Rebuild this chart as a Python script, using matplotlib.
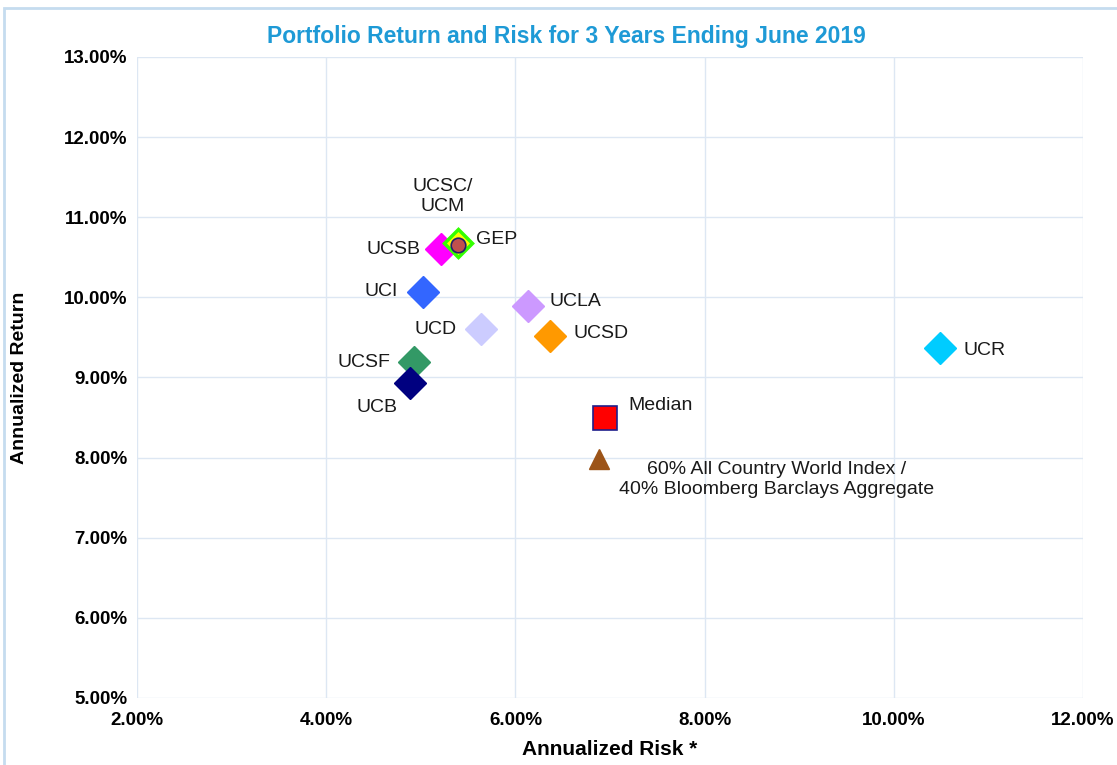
import matplotlib.pyplot as plt
from matplotlib.ticker import FuncFormatter
from matplotlib.patches import Rectangle

# values (percent)
names = ["UCSC/\nUCM", "UCSB", "UCI", "UCLA", "UCD", "UCSD", "UCSF", "UCB", "UCR"]
risk = [5.39, 5.21, 5.02, 6.13, 5.64, 6.36, 4.93, 4.89, 10.49]
ret = [10.68, 10.60, 10.07, 9.89, 9.60, 9.52, 9.19, 8.93, 9.37]
colors = ["#FFFF00", "#FF00FF", "#3366FF", "#CC99FF", "#CCCCFF", "#FF9900", "#339966", "#000080", "#00CCFF"]

gep_risk, gep_ret = 5.39, 10.65
median_risk, median_ret = 6.95, 8.49
bench_risk, bench_ret = 6.88, 7.98
bench_name = "60% All Country World Index /\n40% Bloomberg Barclays Aggregate"

# label offsets in pixels (dx, dy, ha, va)
offsets = {
    "UCSC/\nUCM": (-15, 28, "center", "bottom"),
    "UCSB": (-20, 0, "right", "center"),
    "UCI": (-25, 0, "right", "center"),
    "UCLA": (22, 5, "left", "center"),
    "UCD": (-25, 0, "right", "center"),
    "UCSD": (24, 2, "left", "center"),
    "UCSF": (-24, 0, "right", "center"),
    "UCB": (-13, -16, "right", "top"),
    "UCR": (23, -3, "left", "center"),
}

plt.rcParams['font.family'] = ["Liberation Sans", "DejaVu Sans"]

fig = plt.figure(figsize=(11.17, 7.65), dpi=100)
ax = fig.add_axes([0.1227, 0.0876, 0.8469, 0.8379])

fig.patches.append(Rectangle((4 / 1117, -0.1), 1.2, 1 - 8 / 765 + 0.1, transform=fig.transFigure,
                             fill=False, edgecolor="#C5DCEF", linewidth=2))

for i in range(len(names)):
    if i == 0:
        ax.plot(risk[i], ret[i], marker="D", ms=14.5, color=colors[i], mec="#33FF00", mew=2.5,
                linestyle="none", zorder=4)
    else:
        ax.plot(risk[i], ret[i], marker="D", ms=16.5, color=colors[i], mec=colors[i],
                linestyle="none", zorder=3)
    dx, dy, ha, va = offsets[names[i]]
    ax.annotate(names[i], (risk[i], ret[i]), xytext=(dx, dy), textcoords="offset pixels",
                ha=ha, va=va, fontsize=14, color="#1A1A1A", linespacing=1.2)

ax.plot(gep_risk, gep_ret, marker="o", ms=10.5, color="#C0504D", mec="#1F1F6B", mew=1.2,
        linestyle="none", zorder=5)
ax.annotate("GEP", (gep_risk, gep_ret), xytext=(18, 6), textcoords="offset pixels",
            ha="left", va="center", fontsize=14, color="#1A1A1A")

ax.plot(median_risk, median_ret, marker="s", ms=17, color="#FF0000", mec="#1F1F8B", mew=1.2,
        linestyle="none", zorder=4)
ax.annotate("Median", (median_risk, median_ret), xytext=(23, 13), textcoords="offset pixels",
            ha="left", va="center", fontsize=14, color="#1A1A1A")

ax.plot(bench_risk, bench_ret, marker="^", ms=15, color="#9C5418", linestyle="none", zorder=4)
ax.annotate(bench_name, (bench_risk, bench_ret), xytext=(178, -2), textcoords="offset pixels",
            ha="center", va="top", fontsize=14, color="#1A1A1A", linespacing=1.2)

ax.set_xlim(2, 12)
ax.set_ylim(5, 13)
ax.set_xticks([2, 4, 6, 8, 10, 12])
ax.set_yticks([5, 6, 7, 8, 9, 10, 11, 12, 13])
fmt = FuncFormatter(lambda v, p: "%.2f%%" % v)
ax.xaxis.set_major_formatter(fmt)
ax.yaxis.set_major_formatter(fmt)
ax.grid(True, color="#DDE7F3", linewidth=1.0)
ax.set_axisbelow(True)
for s in ax.spines.values():
    s.set_visible(False)
ax.tick_params(axis="x", length=0, pad=10)
ax.tick_params(axis="y", length=0, pad=7)
for lab in ax.get_xticklabels() + ax.get_yticklabels():
    lab.set_fontweight("bold")
    lab.set_fontsize(13.5)

ax.set_xlabel("Annualized Risk *", fontweight="bold", fontsize=15, labelpad=8)
ax.set_ylabel("Annualized Return", fontweight="bold", fontsize=14, labelpad=26)
ax.set_title("Portfolio Return and Risk for 3 Years Ending June 2019", x=0.4535,
             fontweight="bold", fontsize=16.5, color="#1E9AD6", pad=10)

fig.savefig("out.png", dpi=100)
